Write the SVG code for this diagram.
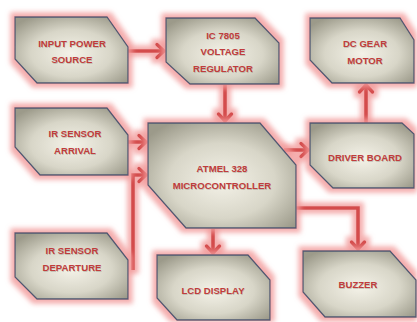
<svg xmlns="http://www.w3.org/2000/svg" width="417" height="322" viewBox="0 0 417 322">
<style>
.box{fill:url(#bg);stroke:#4e5872;stroke-width:1.3;filter:url(#glow)}
.t{font-family:"Liberation Sans",Arial,sans-serif;font-weight:bold;font-size:9.6px;text-anchor:middle;fill:#c03c3c}
.s{fill:#8a8474;opacity:0.35;filter:url(#sb)}
.c{fill:none;stroke:#d44b4b;stroke-width:3.6;marker-end:url(#ah)}
</style>
<defs>
<radialGradient id="bg" cx="50%" cy="55%" r="65%">
<stop offset="0" stop-color="#f4f2e8"/>
<stop offset="0.55" stop-color="#d8d6c8"/>
<stop offset="1" stop-color="#9c9a8a"/>
</radialGradient>
<filter id="glow" filterUnits="userSpaceOnUse" x="0" y="0" width="417" height="322">
<feMorphology in="SourceAlpha" operator="dilate" radius="3.5" result="d"/>
<feGaussianBlur in="d" stdDeviation="2.8" result="b"/>
<feFlood flood-color="#f29a9a" flood-opacity="0.8"/>
<feComposite in2="b" operator="in" result="g"/>
<feMerge><feMergeNode in="g"/><feMergeNode in="SourceGraphic"/></feMerge>
</filter>
<filter id="sb" x="-10%" y="-50%" width="120%" height="200%"><feGaussianBlur stdDeviation="0.6"/></filter>
<marker id="ah" markerUnits="userSpaceOnUse" markerWidth="20" markerHeight="20" refX="10" refY="10" orient="auto" overflow="visible">
<path d="M3,3.5 L10,10 L3,16.5" fill="none" stroke="#d44b4b" stroke-width="3.4" stroke-linecap="round" stroke-linejoin="round"/>
</marker>
</defs>
<g id="connectors" filter="url(#glow)">
<path class="c" d="M128,51 H164"/>
<path class="c" d="M225,85 V121"/>
<path class="c" d="M128,142 H146"/>
<path class="c" d="M133,270 V175 H146"/>
<path class="c" d="M284,150 H308"/>
<path class="c" d="M366,123 V85"/>
<path class="c" d="M213,229 V253"/>
<path class="c" d="M296,208 H358 V249"/>
</g>
<g id="input-power">
<polygon class="box" points="15,17 107,17 128,47 128,83 37,83 15,59"/>
<text class="t s" x="72.5" y="48.3">INPUT POWER</text><text class="t" x="72" y="47">INPUT POWER</text>
<text class="t s" x="72.5" y="64.3">SOURCE</text><text class="t" x="72" y="63">SOURCE</text>
</g>
<g id="ic7805">
<polygon class="box" points="166,18 255,18 279,43 279,84 190,84 166,62"/>
<text class="t s" x="223.5" y="39.8">IC 7805</text><text class="t" x="223" y="38.5">IC 7805</text>
<text class="t s" x="223.5" y="56.3">VOLTAGE</text><text class="t" x="223" y="55">VOLTAGE</text>
<text class="t s" x="223.5" y="72.8">REGULATOR</text><text class="t" x="223" y="71.5">REGULATOR</text>
</g>
<g id="dc-motor">
<polygon class="box" points="310,18 400,18 414,40 414,83 332,83 310,60"/>
<text class="t s" x="365.5" y="47.8">DC GEAR</text><text class="t" x="365" y="46.5">DC GEAR</text>
<text class="t s" x="365.5" y="64.8">MOTOR</text><text class="t" x="365" y="63.5">MOTOR</text>
</g>
<g id="ir-arrival">
<polygon class="box" points="15,108 107,108 128,135 128,175 40,175 15,147"/>
<text class="t s" x="75.5" y="137.8">IR SENSOR</text><text class="t" x="75" y="136.5">IR SENSOR</text>
<text class="t s" x="75.5" y="154.8">ARRIVAL</text><text class="t" x="75" y="153.5">ARRIVAL</text>
</g>
<g id="atmel">
<polygon class="box" points="148,123 260,123 296,165 296,228 186,228 148,185"/>
<text class="t s" x="222.5" y="172.8">ATMEL 328</text><text class="t" x="222" y="171.5">ATMEL 328</text>
<text class="t s" x="222.5" y="189.8">MICROCONTROLLER</text><text class="t" x="222" y="188.5">MICROCONTROLLER</text>
</g>
<g id="driver">
<polygon class="box" points="310,123 402,123 414,134 414,188 333,188 310,165"/>
<text class="t s" x="365.5" y="161.8">DRIVER BOARD</text><text class="t" x="365" y="160.5">DRIVER BOARD</text>
</g>
<g id="ir-departure">
<polygon class="box" points="15,233 107,233 128,260 128,299 37,299 15,277"/>
<text class="t s" x="72.5" y="254.8">IR SENSOR</text><text class="t" x="72" y="253.5">IR SENSOR</text>
<text class="t s" x="72.5" y="271.8">DEPARTURE</text><text class="t" x="72" y="270.5">DEPARTURE</text>
</g>
<g id="lcd">
<polygon class="box" points="157,255 248,255 270,280 270,320 177,320 157,298"/>
<text class="t s" x="213.5" y="294.8">LCD DISPLAY</text><text class="t" x="213" y="293.5">LCD DISPLAY</text>
</g>
<g id="buzzer">
<polygon class="box" points="303,251 390,251 416,280 416,317 325,317 303,292"/>
<text class="t s" x="358.5" y="288.8">BUZZER</text><text class="t" x="358" y="287.5">BUZZER</text>
</g>
</svg>
